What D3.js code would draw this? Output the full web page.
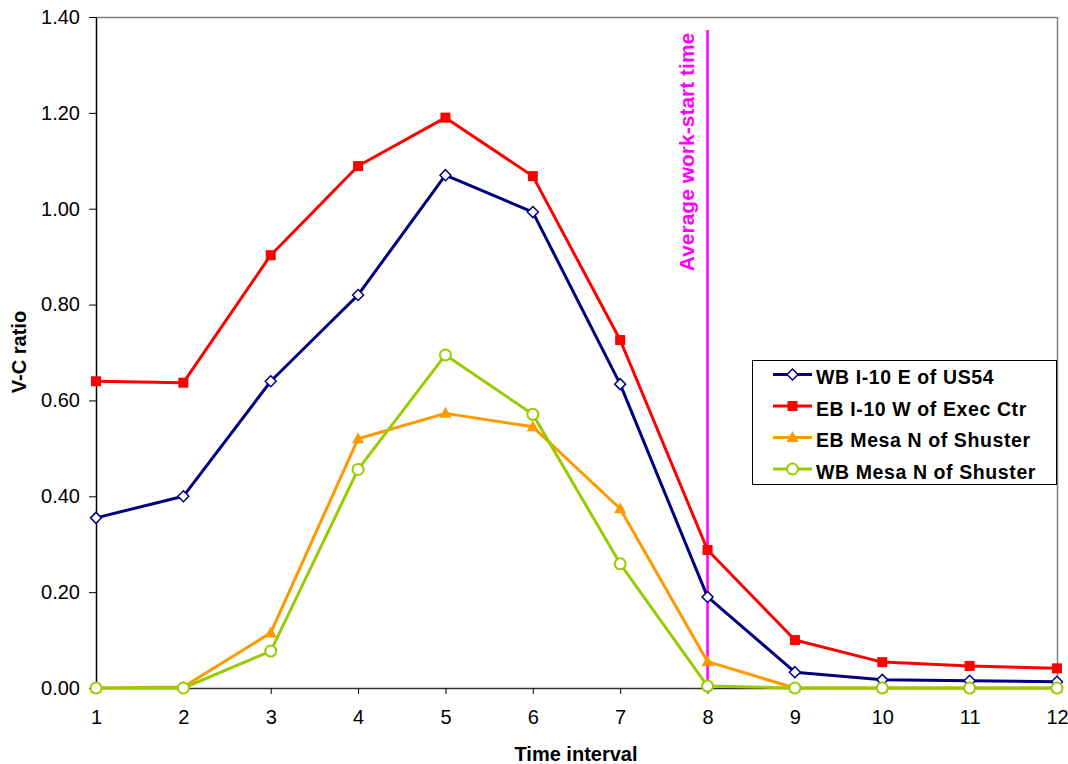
<!DOCTYPE html>
<html><head><meta charset="utf-8">
<script src="https://cdn.jsdelivr.net/npm/d3@7"></script>
<style>body{margin:0;background:#fff;}svg{display:block;font-family:"Liberation Sans",Arial,sans-serif;}</style>
</head><body><svg id="c" width="1068" height="764"></svg>
<script>
const intervals = [1,2,3,4,5,6,7,8,9,10,11,12];
const yTicks = [0,0.2,0.4,0.6,0.8,1.0,1.2,1.4];
const seriesNames = ["WB I-10 E of US54","EB I-10 W of Exec Ctr","EB Mesa N of Shuster","WB Mesa N of Shuster"];
const wbI10 = [0.355,0.40,0.64,0.82,1.07,0.993,0.634,0.19,0.033,0.017,0.015,0.013];
const ebI10 = [0.64,0.637,0.903,1.089,1.19,1.068,0.726,0.288,0.10,0.054,0.046,0.041];
const ebMesa = [0,0.002,0.115,0.52,0.573,0.545,0.374,0.055,0,0,0,0];
const wbMesa = [0,0,0.077,0.456,0.695,0.571,0.259,0.004,0,0,0,0];
const workStart = 8;
const workStartLabel = "Average work-start time";

const colors = ["#000080","#FF0000","#FF9900","#99CC00"];
const shapes = ["diamond","square","triangle","circle"];
const data = [wbI10, ebI10, ebMesa, wbMesa];

const svg = d3.select("#c");
const L=96, R=1057, T=17, B=688;
const x = d3.scaleLinear().domain([1,12]).range([L,R]);
const y = d3.scaleLinear().domain([0,1.4]).range([B,T]);
const FONT = "Liberation Sans, Arial, sans-serif";

// frame
svg.append("line").attr("x1",L).attr("x2",R).attr("y1",T+0.5).attr("y2",T+0.5).attr("stroke","#808080").attr("stroke-width",1.5);
svg.append("line").attr("x1",R+0.5).attr("x2",R+0.5).attr("y1",T).attr("y2",B).attr("stroke","#808080").attr("stroke-width",1.5);

// y axis
const ya = svg.append("g").attr("transform",`translate(${L},0)`)
  .call(d3.axisLeft(y).tickValues(yTicks).tickFormat(d3.format(".2f")).tickSize(7).tickSizeOuter(0));
ya.select(".domain").attr("stroke","#000").attr("stroke-width",1.5);
ya.selectAll(".tick line").attr("stroke","#000");
ya.selectAll("text").attr("font-size",20).attr("fill","#000").attr("x",-16).attr("font-family",FONT);

// x axis
const xa = svg.append("g").attr("transform",`translate(0,${B})`)
  .call(d3.axisBottom(x).tickValues(intervals).tickFormat(d3.format("d")).tickSize(6).tickSizeOuter(0));
xa.select(".domain").attr("stroke","#333").attr("stroke-width",1.5);
xa.selectAll(".tick line").attr("stroke","#000");
xa.selectAll("text").attr("font-size",20).attr("fill","#000").attr("y",22).attr("font-family",FONT);

// axis titles
svg.append("text").attr("x",576).attr("y",761).attr("text-anchor","middle").attr("font-size",20).attr("font-weight","bold").text("Time interval");
svg.append("text").attr("transform","translate(26,352) rotate(-90)").attr("text-anchor","middle").attr("font-size",20).attr("font-weight","bold").text("V-C ratio");

// work start line
svg.append("line").attr("x1",x(workStart)).attr("x2",x(workStart)).attr("y1",30).attr("y2",B).attr("stroke","#FF00FF").attr("stroke-width",2.5);
svg.append("text").attr("transform",`translate(${x(workStart)-13.5},152) rotate(-90)`).attr("text-anchor","middle")
  .attr("font-size",21).attr("font-weight","bold").attr("fill","#FF00FF").text(workStartLabel);

function marker(g, shape, color, cx, cy){
  if(shape==="diamond"){
    g.append("path").attr("d",`M${cx},${cy-5.5}L${cx+5.5},${cy}L${cx},${cy+5.5}L${cx-5.5},${cy}Z`).attr("fill","#fff").attr("stroke",color).attr("stroke-width",1.5);
  } else if(shape==="square"){
    g.append("rect").attr("x",cx-5).attr("y",cy-5).attr("width",10).attr("height",10).attr("fill",color);
  } else if(shape==="triangle"){
    g.append("path").attr("d",`M${cx},${cy-6.5}L${cx+6},${cy+4.5}L${cx-6},${cy+4.5}Z`).attr("fill",color);
  } else {
    g.append("circle").attr("cx",cx).attr("cy",cy).attr("r",5.5).attr("fill","#fff").attr("stroke",color).attr("stroke-width",2);
  }
}

const line = d3.line().x((d,i)=>x(intervals[i])).y(d=>y(d));
data.forEach((vals,si)=>{
  const g = svg.append("g");
  g.append("path").datum(vals).attr("d",line).attr("fill","none").attr("stroke",colors[si]).attr("stroke-width",3).attr("stroke-linejoin","round");
  vals.forEach((v,i)=>marker(g,shapes[si],colors[si],x(intervals[i]),y(v)));
});

// legend
const lg = svg.append("g");
lg.append("rect").attr("x",752.5).attr("y",360.5).attr("width",304).attr("height",124).attr("fill","#fff").attr("stroke","#000").attr("stroke-width",1);
seriesNames.forEach((n,i)=>{
  const cy = 374.5 + i*31.5;
  lg.append("line").attr("x1",773).attr("x2",812).attr("y1",cy).attr("y2",cy).attr("stroke",colors[i]).attr("stroke-width",3);
  marker(lg,shapes[i],colors[i],792.5,cy);
  lg.append("text").attr("x",816).attr("y",cy+9.5).attr("font-size",19.5).attr("letter-spacing",0.6).attr("font-weight","bold").text(n);
});
</script></body></html>
